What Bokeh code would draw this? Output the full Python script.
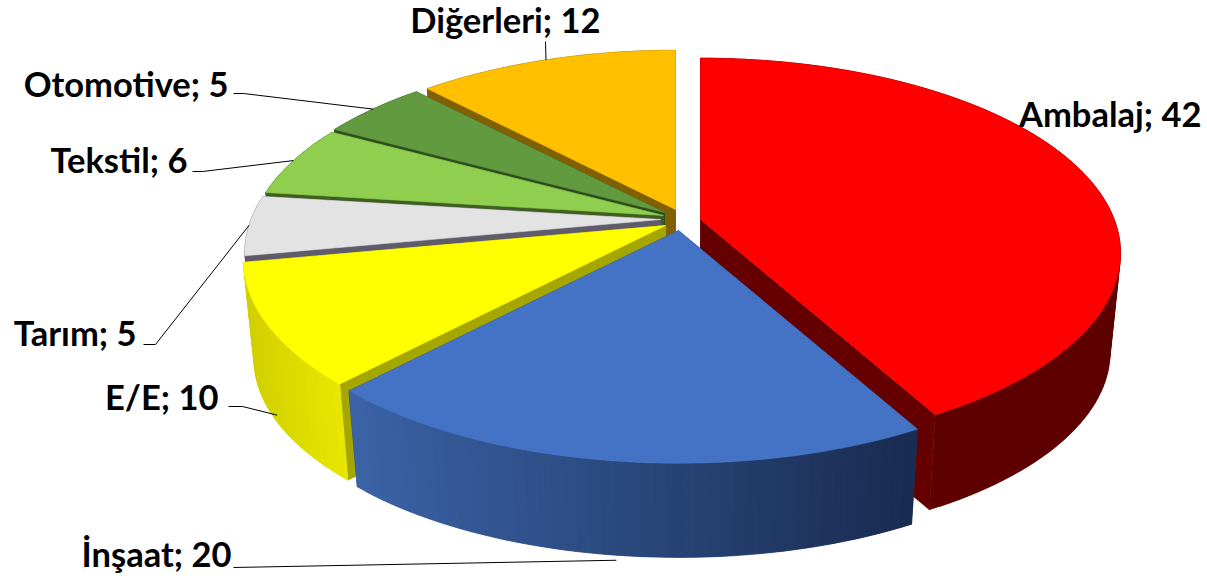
import math
from bokeh.plotting import figure
from bokeh.models import ColumnDataSource
from bokeh.core.properties import value as fontval
from bokeh.embed import file_html
from bokeh.resources import INLINE

# ---- data ----
categories = ["Ambalaj", "İnşaat", "E/E", "Tarım", "Tekstil", "Otomotive", "Diğerleri"]
values = [42, 20, 10, 5, 6, 5, 12]

# ---- styles / layout (not data) ----
top_colors = ["#ff0000", "#4472c4", "#ffff00", "#e4e3e3", "#8fce4e", "#629a3f", "#ffc000"]
cut_colors = ["#640000", "#2b4578", "#a6a600", "#5f5b6b", "#3f5f22", "#2e4d1d", "#806000"]
wall_left = ["#5e0000", "#3a62a5", "#d2d000", "#5f5b6b", "#3f5f22", "#2e4d1d", "#806000"]
wall_right = ["#5e0000", "#182a4e", "#e9e900", "#5f5b6b", "#3f5f22", "#2e4d1d", "#806000"]
apex_x = [700, 678, 665, 660, 663, 664, 675]
apex_y = [219, 230, 225, 219, 215, 212, 209]
radius = [0.985, 1, 0.99, 0.975, 0.975, 0.97, 0.97]
paint_order = [6, 5, 4, 3, 2, 0, 1]

label_right = [1201, 231, 218, 136, 187, 228, 600]
label_base = [126, 566, 409, 345, 172, 96, 32]
elbow_x = [None, 233, 228, 143, 192, 233, 545]
elbow_end = [None, 233, 242, 155, 202, 243, 545]
elbow_y = [None, 567, 406, 344, 171, 93, 41]
leader_t = [None, 1.05, 0.92, 0, 0, 0, 0]

A, B, K, DEPTH, SHRINK = 420.0, 192.0, 0.175, 100.0, 0.975
FONT = "Lato"
FONT_SIZE = "34.5px"


def proj(i, a, t=0.0):
    """Project a rim angle (degrees clockwise from the back), t=0 top face, t=1 bottom."""
    r = radius[i]
    u, v = r * math.sin(math.radians(a)), r * math.cos(math.radians(a))
    w = 1 + K * v
    s = 1 + (SHRINK - 1) * t
    return apex_x[i] + s * A * u / w, apex_y[i] - s * B * v / w + DEPTH * t


def apex(i, t=0.0):
    return apex_x[i], apex_y[i] + DEPTH * t


def hex2rgb(c):
    return tuple(int(c[j:j + 2], 16) for j in (1, 3, 5))


def mix(c0, c1, f):
    a, b = hex2rgb(c0), hex2rgb(c1)
    return "#%02x%02x%02x" % tuple(round(a[j] + (b[j] - a[j]) * f) for j in range(3))


total = sum(values)
starts, ends, acc = [], [], 0.0
for val in values:
    starts.append(acc * 360 / total)
    acc += val
    ends.append(acc * 360 / total)

p = figure(width=1207, height=581, x_range=(0, 1207), y_range=(581, 0),
           output_backend="svg", toolbar_location=None, min_border=0,
           x_axis_type=None, y_axis_type=None, outline_line_color=None,
           background_fill_color="white", border_fill_color="white")
p.grid.visible = False
p.styles = {"position": "absolute", "left": "0px", "top": "0px"}


def poly(xs, ys, color, lw=0.6):
    p.patch(xs, ys, fill_color=color, line_color=color, line_width=lw)


for i in paint_order:
    a0, a1 = starts[i], ends[i]
    # radial cut faces
    for a in (a0, a1):
        pts = [apex(i), proj(i, a), proj(i, a, 1), apex(i, 1)]
        poly([q[0] for q in pts], [q[1] for q in pts], cut_colors[i])
    # outer wall in thin overlapping strips carrying the gradient
    n = max(4, int((a1 - a0) / 1.5))
    angs = [a0 + (a1 - a0) * j / n for j in range(n + 1)]
    xs_rim = [proj(i, a)[0] for a in angs]
    xmin, xmax = min(xs_rim), max(xs_rim)
    for j in range(n):
        back = angs[max(j - 1, 0)]
        pts = [proj(i, back), proj(i, angs[j]), proj(i, angs[j + 1]),
               proj(i, angs[j + 1], 1), proj(i, angs[j], 1), proj(i, back, 1)]
        f = ((xs_rim[j] + xs_rim[j + 1]) / 2 - xmin) / max(xmax - xmin, 1)
        c = mix(wall_left[i], wall_right[i], f)
        p.patch([q[0] for q in pts], [q[1] for q in pts], fill_color=c, line_color=c, line_width=0.4)
    # top face
    m = max(8, int(a1 - a0))
    rim = [proj(i, a0 + (a1 - a0) * j / m) for j in range(m + 1)]
    xs = [apex_x[i]] + [q[0] for q in rim]
    ys = [apex_y[i]] + [q[1] for q in rim]
    poly(xs, ys, top_colors[i])

# leader lines, ending on each slice's mid-angle rim
for i in range(len(values)):
    if elbow_x[i] is None:
        continue
    mid = (starts[i] + ends[i]) / 2
    ex, ey = proj(i, mid, leader_t[i])
    if leader_t[i] > 1:
        ex, ey = proj(i, mid, 1)
        ey += DEPTH * (leader_t[i] - 1)
    p.line([elbow_x[i], elbow_end[i], ex], [elbow_y[i], elbow_y[i], ey], line_color="#000000", line_width=1)

labels = [f"{c}; {v}" for c, v in zip(categories, values)]
src = ColumnDataSource(dict(x=label_right, y=[b - 13 for b in label_base], t=labels))
p.text(x="x", y="y", text="t", source=src, text_font=fontval(FONT), text_font_size=FONT_SIZE,
       text_font_style="bold", text_color="#000000", text_align="right", text_baseline="alphabetic")

open("out.html", "w").write(file_html(p, INLINE))
